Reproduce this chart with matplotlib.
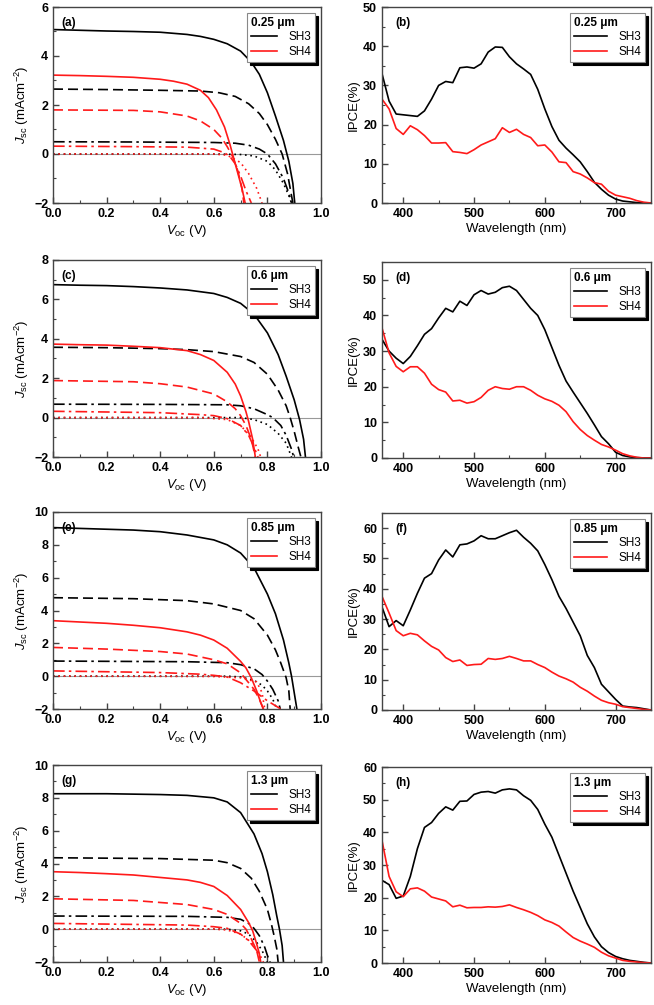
import numpy as np
import matplotlib
matplotlib.use("Agg")
import matplotlib.pyplot as plt
from matplotlib.ticker import MultipleLocator

plt.rcParams['font.family'] = ['Liberation Sans', 'DejaVu Sans']
plt.rcParams['mathtext.fontset'] = 'custom'
plt.rcParams['mathtext.rm'] = 'Liberation Sans'
plt.rcParams['mathtext.it'] = 'Liberation Sans:italic'

# ---- J-V data, (V, J) pairs ----
# panel a, 0.25 um
a_sh3_solid = [(0, 5.08), (0.1, 5.05), (0.2, 5.02), (0.3, 5.0), (0.4, 4.97), (0.5, 4.88), (0.55, 4.8), (0.6, 4.68),
               (0.65, 4.5), (0.7, 4.2), (0.74, 3.75), (0.77, 3.25), (0.8, 2.5), (0.83, 1.55), (0.86, 0.55),
               (0.88, -0.3), (0.895, -1.2), (0.902, -2)]
a_sh3_dash = [(0, 2.65), (0.2, 2.63), (0.4, 2.6), (0.55, 2.57), (0.62, 2.5), (0.68, 2.35), (0.73, 2.05), (0.77, 1.65),
              (0.8, 1.2), (0.83, 0.6), (0.855, 0), (0.875, -0.8), (0.895, -2)]
a_sh3_dashdot = [(0, 0.5), (0.3, 0.49), (0.6, 0.47), (0.68, 0.44), (0.73, 0.36), (0.77, 0.2), (0.8, 0), (0.83, -0.4),
                 (0.86, -1.0), (0.88, -1.6), (0.89, -2)]
a_sh3_dot = [(0, 0), (0.6, 0), (0.7, -0.02), (0.75, -0.08), (0.8, -0.3), (0.83, -0.65), (0.86, -1.2), (0.88, -1.7),
             (0.89, -2)]
a_sh4_solid = [(0, 3.22), (0.1, 3.2), (0.2, 3.17), (0.3, 3.13), (0.4, 3.05), (0.45, 2.97), (0.5, 2.85), (0.55, 2.6),
               (0.58, 2.3), (0.61, 1.8), (0.64, 1.1), (0.66, 0.4), (0.675, -0.2), (0.69, -0.8), (0.705, -1.4),
               (0.717, -2)]
a_sh4_dash = [(0, 1.8), (0.3, 1.78), (0.4, 1.72), (0.5, 1.55), (0.55, 1.35), (0.6, 1.0), (0.63, 0.65), (0.65, 0.3),
              (0.67, -0.1), (0.69, -0.7), (0.705, -1.4), (0.712, -2)]
a_sh4_dashdot = [(0, 0.32), (0.3, 0.3), (0.5, 0.28), (0.6, 0.2), (0.64, 0.05), (0.66, -0.1), (0.68, -0.4),
                 (0.7, -0.9), (0.72, -1.5), (0.74, -2)]
a_sh4_dot = [(0, 0), (0.6, 0), (0.65, -0.05), (0.7, -0.35), (0.73, -0.8), (0.76, -1.4), (0.78, -2)]

# panel c, 0.6 um
c_sh3_solid = [(0, 6.75), (0.1, 6.72), (0.2, 6.7), (0.3, 6.65), (0.4, 6.58), (0.5, 6.48), (0.6, 6.3), (0.65, 6.1),
               (0.7, 5.8), (0.75, 5.25), (0.8, 4.3), (0.84, 3.2), (0.87, 2.1), (0.9, 0.9), (0.92, -0.1),
               (0.935, -1.1), (0.942, -2)]
c_sh3_dash = [(0, 3.57), (0.2, 3.55), (0.4, 3.5), (0.5, 3.45), (0.6, 3.35), (0.7, 3.1), (0.75, 2.8), (0.8, 2.2),
              (0.84, 1.4), (0.87, 0.6), (0.885, 0), (0.9, -0.7), (0.915, -1.5), (0.925, -2)]
c_sh3_dashdot = [(0, 0.68), (0.4, 0.67), (0.65, 0.65), (0.7, 0.6), (0.75, 0.45), (0.8, 0.15), (0.82, 0),
                 (0.85, -0.4), (0.87, -0.9), (0.89, -1.6), (0.898, -2)]
c_sh3_dot = [(0, 0), (0.7, 0), (0.75, -0.1), (0.8, -0.35), (0.84, -0.8), (0.87, -1.3), (0.89, -2)]
c_sh4_solid = [(0, 3.73), (0.1, 3.7), (0.2, 3.68), (0.3, 3.62), (0.4, 3.55), (0.5, 3.4), (0.55, 3.2), (0.6, 2.9),
               (0.65, 2.3), (0.68, 1.7), (0.7, 1.1), (0.72, 0.3), (0.73, -0.2), (0.745, -1.1), (0.755, -2)]
c_sh4_dash = [(0, 1.88), (0.3, 1.82), (0.4, 1.72), (0.5, 1.55), (0.6, 1.2), (0.65, 0.8), (0.68, 0.45), (0.7, 0.1),
              (0.72, -0.4), (0.74, -1.1), (0.755, -2)]
c_sh4_dashdot = [(0, 0.32), (0.4, 0.25), (0.55, 0.15), (0.6, 0.1), (0.65, -0.05), (0.7, -0.4), (0.73, -0.9),
                 (0.75, -1.5), (0.765, -2)]
c_sh4_dot = [(0, 0), (0.55, 0), (0.65, -0.1), (0.7, -0.4), (0.74, -1.0), (0.765, -1.6), (0.775, -2)]

# panel e, 0.85 um
e_sh3_solid = [(0, 9.05), (0.1, 9.0), (0.2, 8.95), (0.3, 8.9), (0.4, 8.8), (0.5, 8.6), (0.6, 8.3), (0.65, 8.0),
               (0.7, 7.5), (0.75, 6.6), (0.8, 5.0), (0.83, 3.8), (0.86, 2.2), (0.88, 0.8), (0.89, 0.0),
               (0.9, -1.0), (0.91, -2)]
e_sh3_dash = [(0, 4.78), (0.3, 4.72), (0.5, 4.6), (0.6, 4.4), (0.7, 4.0), (0.75, 3.5), (0.8, 2.5), (0.83, 1.6),
              (0.85, 0.8), (0.87, -0.1), (0.88, -0.9), (0.885, -2)]
e_sh3_dashdot = [(0, 0.92), (0.5, 0.88), (0.65, 0.82), (0.7, 0.7), (0.75, 0.45), (0.78, 0.1), (0.8, -0.3),
                 (0.82, -0.8), (0.84, -1.5), (0.848, -2)]
e_sh3_dot = [(0, 0), (0.65, 0), (0.7, -0.05), (0.75, -0.25), (0.78, -0.55), (0.8, -0.9), (0.82, -1.4), (0.835, -2)]
e_sh4_solid = [(0, 3.38), (0.1, 3.3), (0.2, 3.22), (0.3, 3.1), (0.4, 2.95), (0.5, 2.7), (0.55, 2.5), (0.6, 2.2),
               (0.65, 1.7), (0.7, 0.9), (0.72, 0.5), (0.74, -0.1), (0.76, -0.9), (0.775, -1.6), (0.785, -2)]
e_sh4_dash = [(0, 1.75), (0.2, 1.65), (0.4, 1.5), (0.5, 1.35), (0.6, 1.0), (0.65, 0.75), (0.7, 0.2), (0.72, -0.2),
              (0.75, -0.8), (0.77, -1.4), (0.785, -2)]
e_sh4_dashdot = [(0, 0.32), (0.4, 0.22), (0.55, 0.12), (0.6, 0.05), (0.65, -0.05), (0.7, -0.4), (0.75, -0.9),
                 (0.8, -1.5), (0.85, -2)]
e_sh4_dot = [(0, 0), (0.6, -0.02), (0.7, -0.1), (0.76, -0.35), (0.78, -1.0), (0.79, -2)]

# panel g, 1.3 um
g_sh3_solid = [(0, 8.25), (0.2, 8.25), (0.4, 8.2), (0.5, 8.15), (0.6, 8.0), (0.65, 7.75), (0.7, 7.1), (0.75, 5.8),
               (0.78, 4.6), (0.8, 3.5), (0.82, 2.1), (0.835, 0.8), (0.845, 0.0), (0.855, -1.0), (0.86, -2)]
g_sh3_dash = [(0, 4.35), (0.4, 4.3), (0.6, 4.2), (0.65, 4.05), (0.7, 3.7), (0.74, 3.1), (0.77, 2.3), (0.8, 1.2),
              (0.815, 0.3), (0.825, -0.4), (0.835, -1.2), (0.84, -2)]
g_sh3_dashdot = [(0, 0.8), (0.5, 0.78), (0.65, 0.72), (0.7, 0.6), (0.73, 0.35), (0.75, 0.05), (0.77, -0.4),
                 (0.79, -1.1), (0.8, -1.6), (0.81, -2)]
g_sh3_dot = [(0, 0), (0.65, 0), (0.7, -0.1), (0.73, -0.3), (0.76, -0.8), (0.78, -1.3), (0.8, -2)]
g_sh4_solid = [(0, 3.5), (0.1, 3.45), (0.2, 3.38), (0.3, 3.3), (0.4, 3.15), (0.5, 3.0), (0.55, 2.85), (0.6, 2.6),
               (0.65, 2.05), (0.7, 1.2), (0.73, 0.4), (0.745, -0.1), (0.76, -0.9), (0.77, -1.5), (0.775, -2)]
g_sh4_dash = [(0, 1.85), (0.3, 1.75), (0.5, 1.5), (0.6, 1.2), (0.65, 0.9), (0.7, 0.35), (0.72, 0.0), (0.74, -0.6),
              (0.76, -1.3), (0.77, -2)]
g_sh4_dashdot = [(0, 0.35), (0.5, 0.25), (0.6, 0.15), (0.65, 0.05), (0.7, -0.3), (0.73, -0.7), (0.76, -1.3),
                 (0.78, -2)]
g_sh4_dot = [(0, 0), (0.6, 0), (0.65, -0.05), (0.7, -0.3), (0.74, -0.8), (0.77, -1.5), (0.785, -2)]

# ---- IPCE data ----
wl = list(range(370, 751, 10))
b_sh3 = [33, 26, 22.7, 22.5, 22.3, 22.1, 23.5, 26.5, 30, 31, 30.7, 34.5, 34.7, 34.4, 35.5, 38.5, 39.8, 39.7, 37.3,
         35.5, 34.2, 32.8, 29, 24, 19.5, 16, 14, 12.3, 10.5, 8, 5.3, 3.5, 2, 1, 0.5, 0.3, 0.1, 0, 0]
b_sh4 = [26.5, 24, 19, 17.5, 19.7, 18.7, 17.2, 15.3, 15.3, 15.4, 13.1, 12.9, 12.6, 13.6, 14.8, 15.6, 16.4, 19.2, 18,
         18.8, 17.5, 16.7, 14.6, 14.8, 13, 10.5, 10.3, 8, 7.4, 6.4, 5.2, 4.8, 3, 2, 1.6, 1.2, 0.6, 0.2, 0]
d_sh3 = [33.3, 30, 28, 26.5, 28.5, 31.5, 34.7, 36.3, 39.3, 42, 41, 44, 42.8, 45.8, 47, 46, 46.5, 47.8, 48.2, 47,
         44.5, 42, 40, 36, 31, 26, 21.6, 18.5, 15.5, 12.5, 9.3, 6, 4, 1.6, 0.7, 0.3, 0.1, 0, 0]
d_sh4 = [36.5, 29.5, 25.7, 24.2, 25.6, 25.6, 23.8, 20.7, 19.2, 18.5, 16, 16.2, 15.4, 15.8, 17, 19, 20, 19.5, 19.3,
         20, 20, 19, 17.6, 16.6, 15.9, 14.8, 13, 10.2, 8, 6.3, 5, 3.8, 3.1, 2.2, 1.2, 0.6, 0.2, 0, 0]
f_sh3 = [34, 27.5, 29.5, 27.8, 33, 38.5, 43.5, 45, 49.5, 52.8, 50.5, 54.5, 54.8, 55.8, 57.5, 56.5, 56.5, 57.5, 58.5,
         59.3, 57, 55, 52.5, 48, 43, 37.5, 33.5, 29, 24.5, 18, 14, 8.5, 6, 3.5, 1.3, 1, 0.8, 0.4, 0]
f_sh4 = [37.5, 32, 26.2, 24.5, 25.3, 24.8, 22.8, 21, 19.8, 17.3, 16, 16.5, 14.7, 15, 15.1, 17, 16.7, 17, 17.7, 17,
         16.2, 16.2, 15, 14, 12.5, 11.2, 10.3, 9.2, 7.5, 6.2, 4.6, 3.2, 2.4, 1.9, 1.1, 0.8, 0.5, 0.2, 0]
h_sh3 = [25.3, 24, 19.8, 20.5, 26.5, 35, 41.5, 43, 45.8, 47.8, 46.8, 49.5, 49.6, 51.6, 52.3, 52.5, 52, 53, 53.3, 53,
         51.2, 49.8, 47, 42.5, 38.5, 33, 27.5, 22, 17, 12, 8, 5, 3.2, 2, 1.3, 0.8, 0.5, 0.2, 0]
h_sh4 = [37.5, 26.5, 21.8, 20.3, 22.7, 23, 22, 20.2, 19.6, 19, 17.2, 17.7, 16.9, 17, 17, 17.2, 17.1, 17.3, 17.8, 17,
         16.3, 15.5, 14.5, 13.2, 12.4, 11.3, 9.5, 7.8, 6.7, 5.8, 4.8, 3.3, 2.2, 1.5, 0.8, 0.5, 0.3, 0.1, 0]

thickness = ['0.25 \u03bcm', '0.6 \u03bcm', '0.85 \u03bcm', '1.3 \u03bcm']
jv_ymax = [6, 8, 10, 10]
ipce_ymax = [50, 55, 65, 60]

jv_sets = [
    [a_sh3_solid, a_sh3_dash, a_sh3_dashdot, a_sh3_dot, a_sh4_solid, a_sh4_dash, a_sh4_dashdot, a_sh4_dot],
    [c_sh3_solid, c_sh3_dash, c_sh3_dashdot, c_sh3_dot, c_sh4_solid, c_sh4_dash, c_sh4_dashdot, c_sh4_dot],
    [e_sh3_solid, e_sh3_dash, e_sh3_dashdot, e_sh3_dot, e_sh4_solid, e_sh4_dash, e_sh4_dashdot, e_sh4_dot],
    [g_sh3_solid, g_sh3_dash, g_sh3_dashdot, g_sh3_dot, g_sh4_solid, g_sh4_dash, g_sh4_dashdot, g_sh4_dot],
]
ipce_sets = [(b_sh3, b_sh4), (d_sh3, d_sh4), (f_sh3, f_sh4), (h_sh3, h_sh4)]
labels_l = ['(a)', '(c)', '(e)', '(g)']
labels_r = ['(b)', '(d)', '(f)', '(h)']

styles = ['-', (0, (6, 3)), (0, (7, 2.5, 1.5, 2.5)), (0, (1, 2.2))]
red = '#ff1a1a'

fig = plt.figure(figsize=(6.54, 10.05), dpi=100)
W, H = 654, 1005
left_rows = [(7, 203), (260, 457), (512, 709), (765, 962)]
right_rows = [(7, 203), (262, 458), (513, 710), (767, 963)]


def style_axes(ax):
    for s in ax.spines.values():
        s.set_color('#444444')
        s.set_linewidth(1.0)
    ax.tick_params(which='both', direction='in', top=False, right=False, colors='#444444',
                   labelcolor='black', labelsize=9)
    ax.tick_params(which='major', length=4, width=1)
    ax.tick_params(which='minor', length=2, width=0.8)
    for lab in ax.get_xticklabels() + ax.get_yticklabels():
        lab.set_fontweight('bold')


def add_legend(ax, handles, title, hlen):
    leg = ax.legend(handles, ['SH3', 'SH4'], loc='upper right', title=title, fontsize=8.5,
                    fancybox=False, edgecolor='#888888', framealpha=1,
                    shadow={'color': 'black', 'alpha': 1}, handlelength=hlen, handletextpad=0.9,
                    borderpad=0.35, labelspacing=0.2, alignment='left', borderaxespad=0.5)
    leg.get_title().set_fontweight('bold')
    leg.get_title().set_fontsize(8.5)
    leg.get_frame().set_linewidth(0.8)


for i in range(4):
    t, b = left_rows[i]
    ax = fig.add_axes([53 / W, 1 - b / H, 268 / W, (b - t) / H])
    for k, cur in enumerate(jv_sets[i]):
        v = [p[0] for p in cur]
        j = [p[1] for p in cur]
        col = 'black' if k < 4 else red
        ax.plot(v, j, color=col, ls=styles[k % 4], lw=1.2)
    ax.axhline(0, color='#999999', lw=0.8, zorder=0)
    ax.set_xlim(0, 1.0)
    ax.set_ylim(-2, jv_ymax[i])
    ax.xaxis.set_minor_locator(MultipleLocator(0.1))
    ax.yaxis.set_major_locator(MultipleLocator(2))
    ax.yaxis.set_minor_locator(MultipleLocator(1))
    ax.set_xticks(np.arange(0, 1.01, 0.2))
    ax.set_xticklabels(['%.1f' % x for x in np.arange(0, 1.01, 0.2)])
    ax.set_ylabel('$J_{\\mathrm{sc}}$ (mAcm$^{-2}$)', fontsize=9.5, labelpad=2)
    ax.set_xlabel('$V_{\\mathrm{oc}}$ (V)', fontsize=9.5, labelpad=2)
    style_axes(ax)
    ax.text(0.03, 0.95, labels_l[i], transform=ax.transAxes, fontsize=8.5, fontweight='bold', va='top')
    h1, = ax.plot([], [], color='black', lw=1.2)
    h2, = ax.plot([], [], color=red, lw=1.2)
    add_legend(ax, [h1, h2], thickness[i], 2.2)

for i in range(4):
    t, b = right_rows[i]
    ax = fig.add_axes([382 / W, 1 - b / H, 269 / W, (b - t) / H])
    s3, s4 = ipce_sets[i]
    l1, = ax.plot(wl, s3, color='black', lw=1.2)
    l2, = ax.plot(wl, s4, color=red, lw=1.2)
    ax.set_xlim(370, 750)
    ax.set_ylim(0, ipce_ymax[i])
    ax.xaxis.set_major_locator(MultipleLocator(100))
    ax.xaxis.set_minor_locator(MultipleLocator(50))
    ax.yaxis.set_major_locator(MultipleLocator(10))
    ax.yaxis.set_minor_locator(MultipleLocator(5))
    ax.set_ylabel('IPCE(%)', fontsize=9.5, labelpad=2)
    ax.set_xlabel('Wavelength (nm)', fontsize=9.5, labelpad=2)
    style_axes(ax)
    ax.text(0.05, 0.95, labels_r[i], transform=ax.transAxes, fontsize=8.5, fontweight='bold', va='top')
    add_legend(ax, [l1, l2], thickness[i], 2.8)

fig.savefig('out.png', dpi=100)
